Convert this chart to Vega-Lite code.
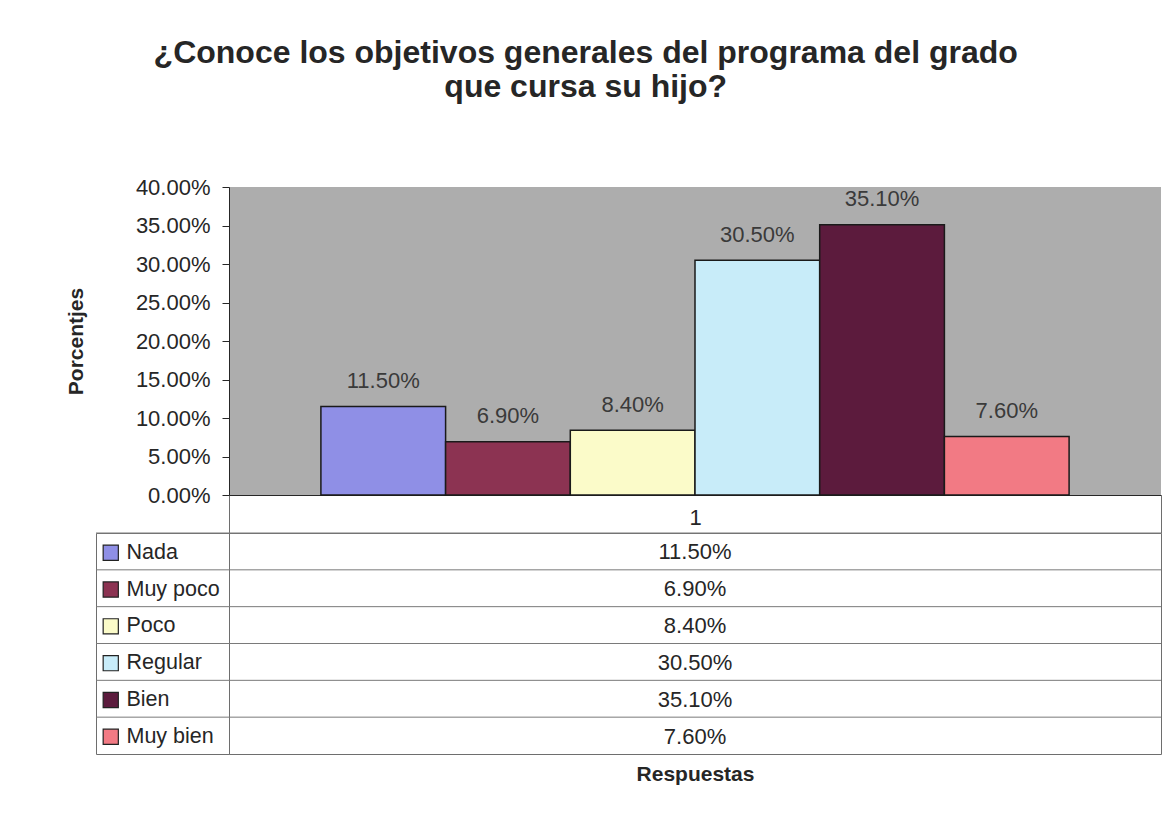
{
  "$schema": "https://vega.github.io/schema/vega-lite/v6.json",
  "padding": {"left": 65, "top": 37, "right": 9, "bottom": 30},
  "background": "white",
  "config": {
    "font": "Liberation Sans",
    "view": {"stroke": null},
    "axis": {"labelFont": "Liberation Sans", "titleFont": "Liberation Sans"}
  },
  "title": {
    "text": ["¿Conoce los objetivos generales del programa del grado", "que cursa su hijo?"],
    "fontSize": 32,
    "fontWeight": "bold",
    "color": "#262626",
    "anchor": "middle",
    "offset": 72,
    "lineHeight": 34,
    "dx": -28
  },
  "datasets": {
    "respuestas": [
      {"grupo": "1", "respuesta": "Nada", "valor": 0.115},
      {"grupo": "1", "respuesta": "Muy poco", "valor": 0.069},
      {"grupo": "1", "respuesta": "Poco", "valor": 0.084},
      {"grupo": "1", "respuesta": "Regular", "valor": 0.305},
      {"grupo": "1", "respuesta": "Bien", "valor": 0.351},
      {"grupo": "1", "respuesta": "Muy bien", "valor": 0.076}
    ]
  },
  "columns": 2,
  "bounds": "flush",
  "spacing": {"row": 38, "column": 0},
  "concat": [
    {
      "width": 133,
      "height": 308,
      "data": {"values": []},
      "mark": "point",
      "encoding": {}
    },
    {
      "width": 932,
      "height": 308,
      "data": {"name": "respuestas"},
      "view": {"fill": "#adadad", "stroke": null},
      "encoding": {
        "x": {
          "field": "grupo",
          "type": "nominal",
          "scale": {"paddingInner": 0, "paddingOuter": 0},
          "axis": {
            "title": null,
            "labelFontSize": 22,
            "labelColor": "#262626",
            "labelAngle": 0,
            "tickBand": "extent",
            "tickSize": 38,
            "tickColor": "#6e6e6e",
            "tickWidth": 1,
            "domainColor": "#262626",
            "domainWidth": 1,
            "labelPadding": -26,
            "labelBaseline": "top"
          }
        },
        "xOffset": {
          "field": "respuesta",
          "type": "nominal",
          "sort": ["Nada", "Muy poco", "Poco", "Regular", "Bien", "Muy bien"],
          "scale": {"paddingInner": 0, "paddingOuter": 0.737}
        },
        "y": {
          "field": "valor",
          "type": "quantitative",
          "scale": {"domain": [0, 0.4], "nice": false},
          "axis": {
            "title": "Porcentjes",
            "titleFontSize": 21,
            "titleFontWeight": "bold",
            "titleColor": "#262626",
            "titlePadding": 49,
            "labelFontSize": 22,
            "labelColor": "#262626",
            "tickSize": 7,
            "labelPadding": 12,
            "tickColor": "#262626",
            "domainColor": "#262626",
            "grid": false,
            "values": [0, 0.05, 0.1, 0.15, 0.2, 0.25, 0.3, 0.35, 0.4],
            "format": ".2%"
          }
        }
      },
      "layer": [
        {
          "mark": {"type": "bar", "stroke": "#1a1a1a", "strokeWidth": 1.5},
          "encoding": {
            "color": {
              "field": "respuesta",
              "type": "nominal",
              "sort": ["Nada", "Muy poco", "Poco", "Regular", "Bien", "Muy bien"],
              "scale": {
                "domain": ["Nada", "Muy poco", "Poco", "Regular", "Bien", "Muy bien"],
                "range": ["#8f8fe6", "#8c3352", "#fbfbc9", "#c8ecf9", "#5c1b3d", "#f27a84"]
              },
              "legend": {
                "orient": "none",
                "legendX": 4,
                "legendY": 355,
                "title": null,
                "symbolType": "square",
                "symbolSize": 230,
                "symbolStrokeColor": "#222222",
                "symbolStrokeWidth": 1.2,
                "symbolOpacity": 1,
                "labelFontSize": 21.5,
                "labelColor": "#262626",
                "labelFont": "Liberation Sans",
                "rowPadding": 13.8,
                "labelOffset": 5,
                "padding": 0
              }
            }
          }
        },
        {
          "mark": {"type": "text", "fontSize": 22, "color": "#3a3a3a", "baseline": "alphabetic", "dy": -18.5},
          "encoding": {
            "text": {"field": "valor", "type": "quantitative", "format": ".2%"}
          }
        }
      ]
    },
    {
      "width": 133,
      "height": 221,
      "data": {"name": "respuestas"},
      "view": {"stroke": "#6e6e6e", "strokeWidth": 1},
      "mark": {"type": "rule", "color": "#7a7a7a", "strokeWidth": 1},
      "encoding": {
        "y": {
          "field": "respuesta",
          "type": "nominal",
          "sort": ["Nada", "Muy poco", "Poco", "Regular", "Bien", "Muy bien"],
          "bandPosition": 0,
          "scale": {"type": "band", "paddingInner": 0, "paddingOuter": 0},
          "axis": null
        }
      }
    },
    {
      "width": 932,
      "height": 221,
      "data": {"name": "respuestas"},
      "view": {"stroke": "#6e6e6e", "strokeWidth": 1},
      "encoding": {
        "y": {
          "field": "respuesta",
          "type": "nominal",
          "sort": ["Nada", "Muy poco", "Poco", "Regular", "Bien", "Muy bien"],
          "scale": {"type": "band", "paddingInner": 0, "paddingOuter": 0},
          "axis": null
        }
      },
      "layer": [
        {
          "mark": {"type": "rule", "color": "#7a7a7a", "strokeWidth": 1},
          "encoding": {
            "y": {
              "field": "respuesta",
              "type": "nominal",
              "sort": ["Nada", "Muy poco", "Poco", "Regular", "Bien", "Muy bien"],
              "bandPosition": 0,
              "scale": {"type": "band", "paddingInner": 0, "paddingOuter": 0},
              "axis": null
            }
          }
        },
        {
          "mark": {"type": "text", "fontSize": 22, "color": "#262626", "baseline": "middle", "dy": 1},
          "encoding": {
            "x": {
              "field": "grupo",
              "type": "nominal",
              "scale": {"type": "band", "paddingInner": 0, "paddingOuter": 0},
              "axis": {
                "title": "Respuestas",
                "titleFontSize": 21,
                "titleFontWeight": "bold",
                "titleColor": "#262626",
                "titlePadding": 9,
                "labels": false,
                "ticks": false,
                "domain": false
              }
            },
            "text": {"field": "valor", "type": "quantitative", "format": ".2%"}
          }
        }
      ]
    }
  ]
}
